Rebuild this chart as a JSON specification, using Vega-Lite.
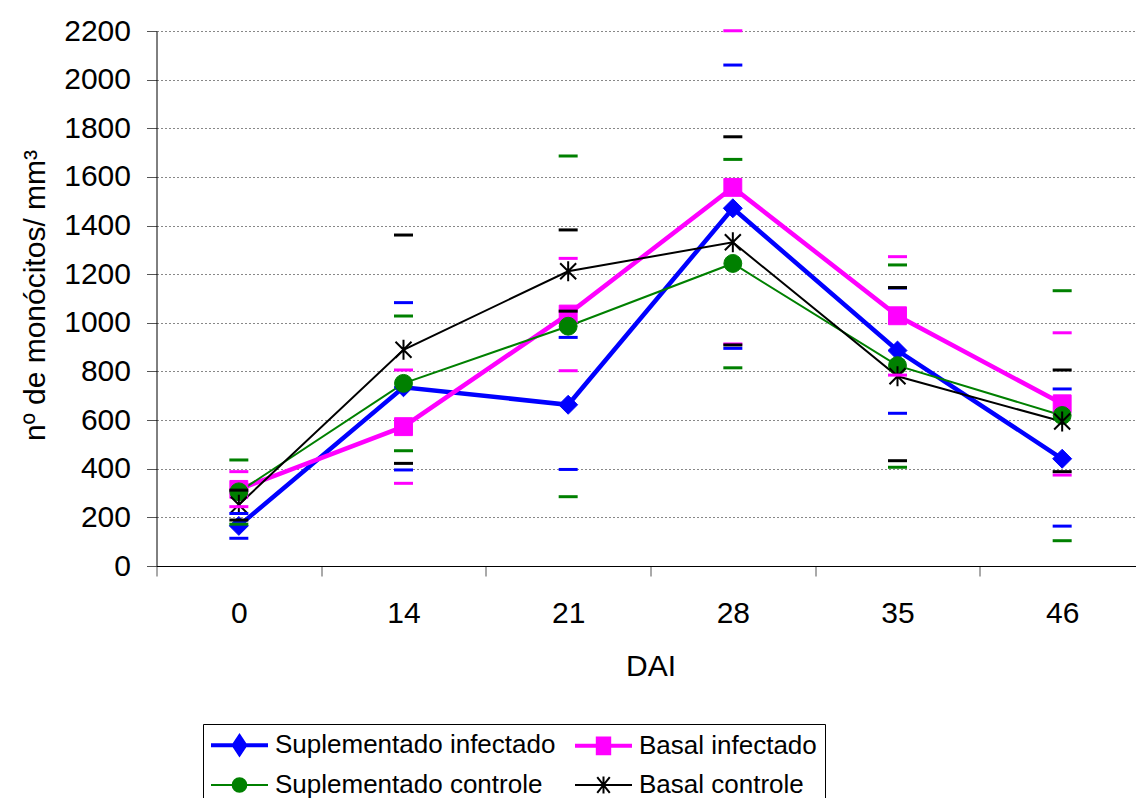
{
  "$schema": "https://vega.github.io/schema/vega-lite/v6.json",
  "width": 988,
  "height": 535,
  "autosize": {"type": "none"},
  "padding": {"left": 156.5, "top": 31, "right": 0, "bottom": 232},
  "background": "white",
  "config": {"view": {"stroke": null}, "font": "Liberation Sans"},
  "data": {
    "values": [
      {"DAI": 0, "series": "Suplementado infectado", "mean": 165, "low": 114, "high": 216},
      {"DAI": 14, "series": "Suplementado infectado", "mean": 735, "low": 395, "high": 1083},
      {"DAI": 21, "series": "Suplementado infectado", "mean": 663, "low": 397, "high": 940},
      {"DAI": 28, "series": "Suplementado infectado", "mean": 1471, "low": 895, "high": 2060},
      {"DAI": 35, "series": "Suplementado infectado", "mean": 886, "low": 628, "high": 1143},
      {"DAI": 46, "series": "Suplementado infectado", "mean": 441, "low": 164, "high": 728},
      {"DAI": 0, "series": "Basal infectado", "mean": 315, "low": 244, "high": 388},
      {"DAI": 14, "series": "Basal infectado", "mean": 573, "low": 340, "high": 806},
      {"DAI": 21, "series": "Basal infectado", "mean": 1036, "low": 803, "high": 1265},
      {"DAI": 28, "series": "Basal infectado", "mean": 1557, "low": 913, "high": 2201},
      {"DAI": 35, "series": "Basal infectado", "mean": 1029, "low": 785, "high": 1272},
      {"DAI": 46, "series": "Basal infectado", "mean": 667, "low": 374, "high": 959},
      {"DAI": 0, "series": "Suplementado controle", "mean": 305, "low": 172, "high": 436},
      {"DAI": 14, "series": "Suplementado controle", "mean": 751, "low": 474, "high": 1028},
      {"DAI": 21, "series": "Suplementado controle", "mean": 986, "low": 285, "high": 1686},
      {"DAI": 28, "series": "Suplementado controle", "mean": 1244, "low": 815, "high": 1672},
      {"DAI": 35, "series": "Suplementado controle", "mean": 824, "low": 406, "high": 1238},
      {"DAI": 46, "series": "Suplementado controle", "mean": 619, "low": 104, "high": 1132},
      {"DAI": 0, "series": "Basal controle", "mean": 252, "low": 189, "high": 312},
      {"DAI": 14, "series": "Basal controle", "mean": 889, "low": 422, "high": 1361},
      {"DAI": 21, "series": "Basal controle", "mean": 1212, "low": 1048, "high": 1382},
      {"DAI": 28, "series": "Basal controle", "mean": 1331, "low": 909, "high": 1765},
      {"DAI": 35, "series": "Basal controle", "mean": 780, "low": 433, "high": 1145},
      {"DAI": 46, "series": "Basal controle", "mean": 594, "low": 388, "high": 806}
    ]
  },
  "encoding": {
    "x": {
      "field": "DAI",
      "type": "ordinal",
      "bandPosition": 0.5,
      "scale": {"type": "band", "paddingInner": 0, "paddingOuter": 0},
      "axis": {
        "labelAngle": 0,
        "labelFontSize": 30,
        "labelColor": "#000",
        "labelPadding": 22,
        "tickSize": 10,
        "tickBand": "extent",
        "tickColor": "#555",
        "domainColor": "#000",
        "grid": false,
        "title": "DAI",
        "titleFontSize": 30,
        "titleFontWeight": "normal",
        "titleColor": "#000",
        "titleY": 109,
        "titleBaseline": "alphabetic"
      }
    },
    "y": {
      "field": "mean",
      "type": "quantitative",
      "scale": {"domain": [0, 2200], "nice": false},
      "axis": {
        "values": [0, 200, 400, 600, 800, 1000, 1200, 1400, 1600, 1800, 2000, 2200],
        "format": "d",
        "labelFontSize": 30,
        "labelColor": "#000",
        "labelPadding": 16,
        "tickSize": 10,
        "tickColor": "#555",
        "domainColor": "#000",
        "grid": true,
        "gridDash": [2, 2],
        "gridColor": "#888",
        "gridWidth": 1,
        "title": "nº de monócitos/ mm³",
        "titleFontSize": 30,
        "titleFontWeight": "normal",
        "titleColor": "#000",
        "titleAngle": -90,
        "titleX": -112,
        "titleY": 264,
        "titleAlign": "center",
        "titleBaseline": "alphabetic"
      }
    }
  },
  "layer": [
    {
      "transform": [{"filter": "datum.series === 'Suplementado infectado' || datum.series === 'Basal infectado'"}],
      "mark": {"type": "line", "strokeWidth": 4.5},
      "encoding": {
        "color": {
          "field": "series",
          "type": "nominal",
          "scale": {
            "domain": ["Suplementado infectado", "Basal infectado", "Suplementado controle", "Basal controle"],
            "range": ["#0000FF", "#FF00FF", "#008000", "#000000"]
          },
          "legend": {
            "orient": "none",
            "legendX": 46.5,
            "legendY": 693,
            "direction": "horizontal",
            "columns": 2,
            "title": null,
            "labelFontSize": 26,
            "labelFont": "Liberation Sans",
            "labelColor": "#000",
            "labelLimit": 0,
            "labelExpr": "indexof(datum.label, 'Basal') === 0 ? datum.label + '              ' : datum.label",
            "symbolSize": 3249,
            "labelOffset": 7,
            "columnPadding": 11,
            "rowPadding": 10,
            "padding": 8,
            "strokeColor": "#000",
            "fillColor": "#fff",
            "encode": {
              "symbols": {
                "update": {
                  "x": {"value": 28.5},
                  "shape": {"signal": "datum.value === 'Suplementado infectado' ? 'M-1,0H1M0,-0.3L0.2,0L0,0.3L-0.2,0Z' : datum.value === 'Basal infectado' ? 'M-1,0H1M-0.2,-0.26H0.2V0.26H-0.2Z' : datum.value === 'Suplementado controle' ? 'M-1,0H1M0.24,0A0.24,0.24 0 1 1 -0.24,0A0.24,0.24 0 1 1 0.24,0Z' : 'M-1,0H1M0,-0.3V0.3M-0.22,-0.28L0.22,0.28M-0.22,0.28L0.22,-0.28'"},
                  "fill": {"signal": "datum.value === 'Suplementado infectado' ? '#0000FF' : datum.value === 'Basal infectado' ? '#FF00FF' : datum.value === 'Suplementado controle' ? '#008000' : '#000000'"},
                  "stroke": {"signal": "datum.value === 'Suplementado infectado' ? '#0000FF' : datum.value === 'Basal infectado' ? '#FF00FF' : datum.value === 'Suplementado controle' ? '#008000' : '#000000'"},
                  "strokeWidth": {"signal": "(datum.value === 'Suplementado infectado' || datum.value === 'Basal infectado') ? 4 : 2"},
                  "opacity": {"value": 1},
                  "size": {"value": 3249}
                }
              },
              "labels": {
                "update": {
                  "x": {"value": 64}
                }
              }
            }
          }
        }
      }
    },
    {
      "transform": [{"filter": "datum.series === 'Suplementado controle' || datum.series === 'Basal controle'"}],
      "mark": {"type": "line", "strokeWidth": 2},
      "encoding": {
        "color": {"field": "series", "type": "nominal", "legend": null}
      }
    },
    {
      "transform": [{"filter": "datum.series === 'Suplementado infectado'"}],
      "mark": {"type": "point", "shape": "diamond", "filled": true, "opacity": 1, "fill": "#0000FF", "stroke": "#0000FF", "strokeWidth": 1, "size": 360},
      "encoding": {}
    },
    {
      "transform": [{"filter": "datum.series === 'Basal infectado'"}],
      "mark": {"type": "point", "shape": "square", "filled": true, "opacity": 1, "fill": "#FF00FF", "stroke": "#FF00FF", "strokeWidth": 1, "size": 320},
      "encoding": {}
    },
    {
      "transform": [{"filter": "datum.series === 'Suplementado controle'"}],
      "mark": {"type": "point", "shape": "circle", "filled": true, "opacity": 1, "fill": "#008000", "stroke": "#008000", "strokeWidth": 1, "size": 320},
      "encoding": {}
    },
    {
      "transform": [{"filter": "datum.series === 'Basal controle'"}],
      "mark": {"type": "point", "shape": "M0,-1V1M-0.8,-0.8L0.8,0.8M-0.8,0.8L0.8,-0.8", "filled": false, "opacity": 1, "fill": null, "stroke": "#000000", "strokeWidth": 2, "size": 400},
      "encoding": {}
    },
    {
      "transform": [{"fold": ["low", "high"], "as": ["bound", "value"]}],
      "mark": {"type": "tick", "orient": "horizontal", "size": 19, "thickness": 3, "opacity": 1},
      "encoding": {
        "y": {
          "field": "value",
          "type": "quantitative",
          "axis": {
            "values": [0, 200, 400, 600, 800, 1000, 1200, 1400, 1600, 1800, 2000, 2200],
            "format": "d",
            "labelFontSize": 30,
            "labelColor": "#000",
            "labelPadding": 16,
            "tickSize": 10,
            "tickColor": "#555",
            "domainColor": "#000",
            "grid": true,
            "gridDash": [2, 2],
            "gridColor": "#888",
            "gridWidth": 1,
            "title": "nº de monócitos/ mm³",
            "titleFontSize": 30,
            "titleFontWeight": "normal",
            "titleColor": "#000",
            "titleAngle": -90,
            "titleX": -112,
            "titleY": 264,
            "titleAlign": "center",
            "titleBaseline": "alphabetic"
          }
        },
        "color": {"field": "series", "type": "nominal", "legend": null}
      }
    }
  ]
}
